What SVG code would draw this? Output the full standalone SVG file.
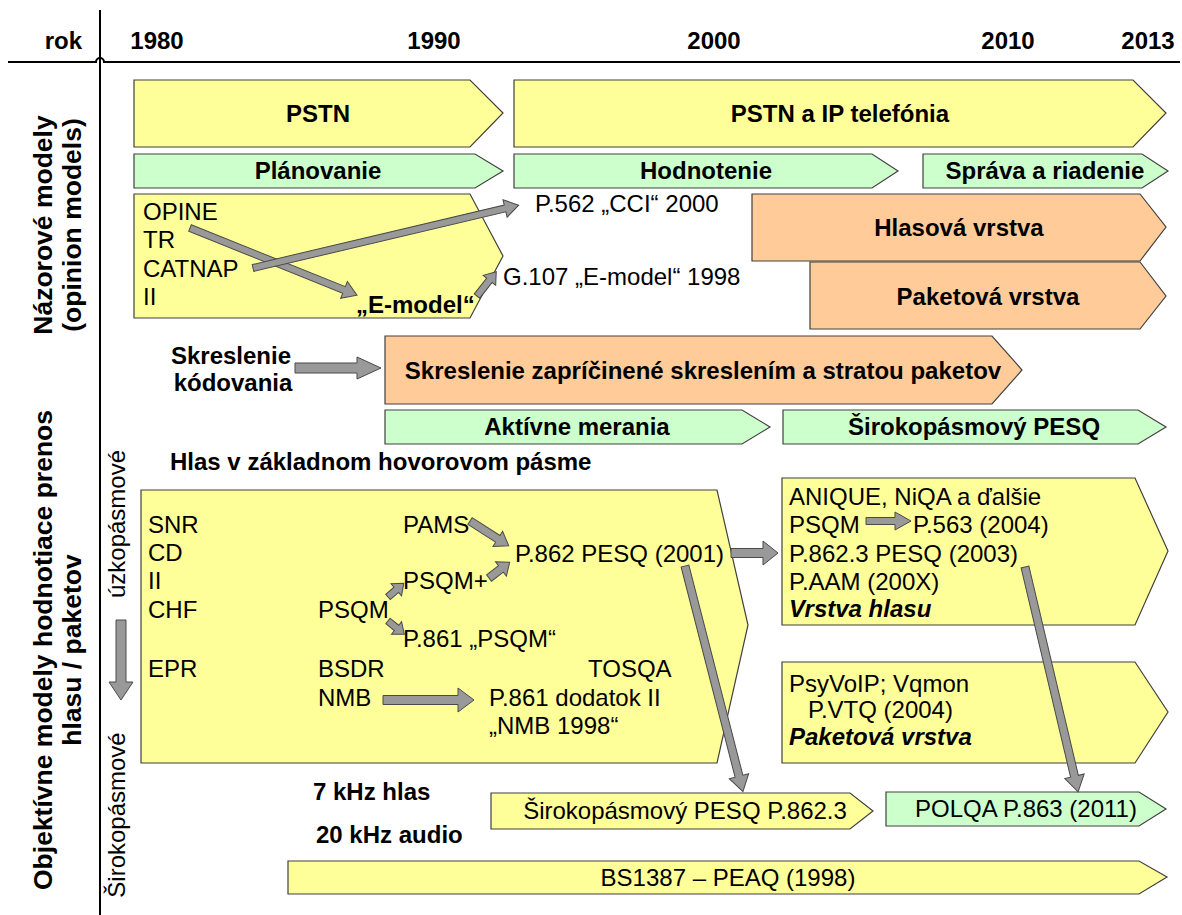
<svg xmlns="http://www.w3.org/2000/svg" width="1182" height="915" viewBox="0 0 1182 915">
  <style>
    text { font-family: "Liberation Sans", Arial, sans-serif; fill: #000; }
    .b { font-weight: bold; font-size: 24px; }
    .r { font-size: 24px; }
    .side { font-weight: bold; font-size: 26.5px; }
    .bi { font-weight: bold; font-style: italic; font-size: 24px; }
    .mid { text-anchor: middle; }
    .yel { fill: #FFFF99; stroke: #404040; stroke-width: 1.2; }
    .grn { fill: #CCFFCC; stroke: #404040; stroke-width: 1.2; }
    .org { fill: #FFCC99; stroke: #404040; stroke-width: 1.2; }
    .arr { fill: #999999; stroke: #4a4a4a; stroke-width: 1; }
    .axis { fill: none; stroke: #000; stroke-width: 2; }
  </style>
  <rect width="1182" height="915" fill="#fff"/>

  <!-- axes and header -->
  <g id="axes">
    <path class="axis" d="M100,10 V915"/>
    <path class="axis" d="M8,62 H96 a4,4 0 0 1 8,0 H1180"/>
    <text class="b" x="82" y="49" text-anchor="end">rok</text>
    <text class="b mid" x="157" y="49">1980</text>
    <text class="b mid" x="434" y="49">1990</text>
    <text class="b mid" x="714" y="49">2000</text>
    <text class="b mid" x="1008" y="49">2010</text>
    <text class="b mid" x="1148" y="49">2013</text>
  </g>

  <!-- row labels -->
  <g id="labels">
    <text class="side mid" transform="translate(52,225) rotate(-90)">Názorové modely</text>
    <text class="side mid" transform="translate(81,225) rotate(-90)">(opinion models)</text>
    <text class="side mid" transform="translate(52,650) rotate(-90)">Objektívne modely hodnotiace prenos</text>
    <text class="side mid" transform="translate(81,650) rotate(-90)">hlasu / paketov</text>
    <text class="r mid" transform="translate(125,524) rotate(-90)">úzkopásmové</text>
    <text class="r mid" transform="translate(125,815) rotate(-90)">Širokopásmové</text>
  </g>

  <!-- opinion models -->
  <g id="pstn">
    <path class="yel" d="M134,80 H470 L503,113 L470,147 H134 Z"/>
    <text class="b mid" x="318" y="122">PSTN</text>
  </g>
  <g id="pstn-ip">
    <path class="yel" d="M514,80 H1133 L1166,113 L1133,147 H514 Z"/>
    <text class="b mid" x="840" y="122">PSTN a IP telefónia</text>
  </g>
  <g id="planovanie">
    <path class="grn" d="M134,154 H475 L503,171 L475,188 H134 Z"/>
    <text class="b mid" x="318" y="179">Plánovanie</text>
  </g>
  <g id="hodnotenie">
    <path class="grn" d="M514,154 H872 L898,171 L872,188 H514 Z"/>
    <text class="b mid" x="706" y="179">Hodnotenie</text>
  </g>
  <g id="sprava">
    <path class="grn" d="M923,154 H1142 L1168,171 L1142,188 H923 Z"/>
    <text class="b mid" x="1045" y="179">Správa a riadenie</text>
  </g>
  <g id="opine">
    <path class="yel" d="M134,194 H470 L503,256 L470,318 H134 Z"/>
    <text class="r" x="143" y="220">OPINE</text>
    <text class="r" x="143" y="248">TR</text>
    <text class="r" x="143" y="277">CATNAP</text>
    <text class="r" x="143" y="305">II</text>
    <text class="b" x="356" y="313">„E-model“</text>
  </g>
  <g id="p562">
    <text class="r" x="535" y="212">P.562 „CCI“ 2000</text>
  </g>
  <g id="g107">
    <text class="r" x="503" y="285">G.107 „E-model“ 1998</text>
  </g>
  <g id="hlasova">
    <path class="org" d="M752,194 H1140 L1166,227 L1140,261 H752 Z"/>
    <text class="b mid" x="959" y="236">Hlasová vrstva</text>
  </g>
  <g id="paketova">
    <path class="org" d="M810,262 H1140 L1166,296 L1140,329 H810 Z"/>
    <text class="b mid" x="988" y="305">Paketová vrstva</text>
  </g>

  <!-- distortion / measurements -->
  <g id="skreslenie-kod">
    <text class="b mid" x="231" y="364">Skreslenie</text>
    <text class="b mid" x="233" y="391">kódovania</text>
  </g>
  <g id="skreslenie-pak">
    <path class="org" d="M385,336 H992 L1022,370 L992,404 H385 Z"/>
    <text class="b mid" x="703" y="379">Skreslenie zapríčinené skreslením a stratou paketov</text>
  </g>
  <g id="aktivne">
    <path class="grn" d="M385,410 H742 L770,427 L742,444 H385 Z"/>
    <text class="b mid" x="577" y="435">Aktívne merania</text>
  </g>
  <g id="wb-pesq">
    <path class="grn" d="M783,410 H1138 L1166,427 L1138,444 H783 Z"/>
    <text class="b mid" x="974" y="435">Širokopásmový PESQ</text>
  </g>
  <g id="hlas-pasmo">
    <text class="b" x="170" y="470">Hlas v základnom hovorovom pásme</text>
  </g>

  <!-- narrowband models -->
  <g id="narrowband">
    <path class="yel" d="M141,490 H717 L748,625 L717,763 H141 Z"/>
    <text class="r" x="148" y="533">SNR</text>
    <text class="r" x="148" y="561">CD</text>
    <text class="r" x="148" y="589">II</text>
    <text class="r" x="148" y="618">CHF</text>
    <text class="r" x="148" y="677">EPR</text>
    <text class="r" x="403" y="533">PAMS</text>
    <text class="r" x="403" y="589">PSQM+</text>
    <text class="r" x="318" y="618">PSQM</text>
    <text class="r" x="403" y="647">P.861 „PSQM“</text>
    <text class="r" x="318" y="677">BSDR</text>
    <text class="r" x="318" y="706">NMB</text>
    <text class="r" x="588" y="677">TOSQA</text>
    <text class="r" x="489" y="706">P.861 dodatok II</text>
    <text class="r" x="489" y="734">„NMB 1998“</text>
    <text class="r" x="515" y="562">P.862 PESQ (2001)</text>
  </g>
  <g id="voice-layer">
    <path class="yel" d="M782,478 H1135 L1168,551 L1135,625 H782 Z"/>
    <text class="r" x="789" y="505">ANIQUE, NiQA a ďalšie</text>
    <text class="r" x="789" y="533">PSQM</text>
    <text class="r" x="913" y="533">P.563 (2004)</text>
    <text class="r" x="789" y="562">P.862.3 PESQ (2003)</text>
    <text class="r" x="789" y="590">P.AAM (200X)</text>
    <text class="bi" x="789" y="617">Vrstva hlasu</text>
  </g>
  <g id="packet-layer">
    <path class="yel" d="M782,662 H1135 L1168,712 L1135,763 H782 Z"/>
    <text class="r" x="789" y="692">PsyVoIP; Vqmon</text>
    <text class="r" x="808" y="718">P.VTQ (2004)</text>
    <text class="bi" x="789" y="745">Paketová vrstva</text>
  </g>

  <!-- wideband / audio -->
  <g id="khz7">
    <text class="b" x="313" y="800">7 kHz hlas</text>
  </g>
  <g id="khz20">
    <text class="b" x="316" y="843">20 kHz audio</text>
  </g>
  <g id="wb-pesq-p8623">
    <path class="yel" d="M491,793 H850 L873,811 L850,829 H491 Z"/>
    <text class="r mid" x="685" y="819">Širokopásmový PESQ P.862.3</text>
  </g>
  <g id="polqa">
    <path class="grn" d="M886,792 H1139 L1166,809 L1139,826 H886 Z"/>
    <text class="r mid" x="1026" y="817">POLQA P.863 (2011)</text>
  </g>
  <g id="bs1387">
    <path class="yel" d="M288,861 H1139 L1167,877 L1139,894 H288 Z"/>
    <text class="r mid" x="728" y="886">BS1387 – PEAQ (1998)</text>
  </g>

  <!-- connectors: block arrows -->
  <g id="connectors">
    <path class="arr" transform="translate(190,228) rotate(21.9)" d="M0,-3.5H166V-9L180,0L166,9V3.5H0Z"/>
    <path class="arr" transform="translate(253,268) rotate(-13.3)" d="M0,-3.5H259V-9L273,0L259,9V3.5H0Z"/>
    <path class="arr" transform="translate(477,296) rotate(-51.6)" d="M0,-3.5H20V-8L31,0L20,8V3.5H0Z"/>
    <path class="arr" transform="translate(295,368)" d="M0,-5H62V-11L86,0L62,11V5H0Z"/>
    <path class="arr" transform="translate(470,521) rotate(32.7)" d="M0,-4H33V-9L46,0L33,9V4H0Z"/>
    <path class="arr" transform="translate(489,578) rotate(-37.3)" d="M0,-4H15V-9L26,0L15,9V4H0Z"/>
    <path class="arr" transform="translate(388,597) rotate(-41.2)" d="M0,-3.5H11V-8L21,0L11,8V3.5H0Z"/>
    <path class="arr" transform="translate(388,621) rotate(39)" d="M0,-3.5H11V-8L21,0L11,8V3.5H0Z"/>
    <path class="arr" transform="translate(383,700)" d="M0,-4.5H75V-12L91,0L75,12V4.5H0Z"/>
    <path class="arr" transform="translate(731,553)" d="M0,-4.5H32V-12L47,0L32,12V4.5H0Z"/>
    <path class="arr" transform="translate(685,566) rotate(75.6)" d="M0,-4H217V-10L233,0L217,10V4H0Z"/>
    <path class="arr" transform="translate(866,521)" d="M0,-3.5H29V-9L45,0L29,9V3.5H0Z"/>
    <path class="arr" transform="translate(1025,567) rotate(76.7)" d="M0,-4H215V-10L231,0L215,10V4H0Z"/>
    <path class="arr" transform="translate(121,620) rotate(90)" d="M0,-5H62V-12L80,0L62,12V5H0Z"/>
  </g>
</svg>
